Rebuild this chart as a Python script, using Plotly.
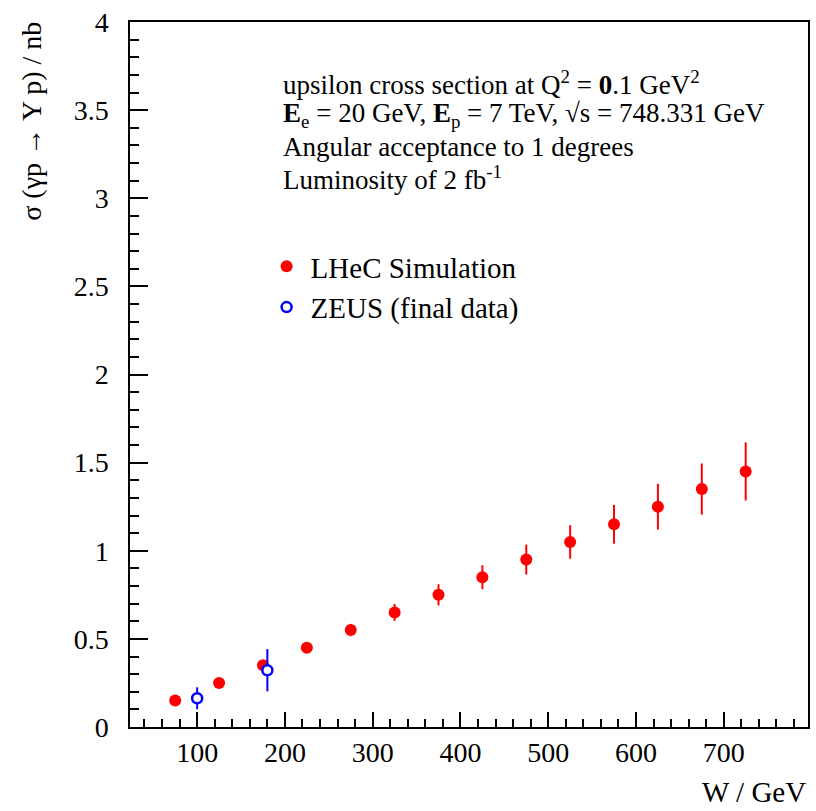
import plotly.graph_objects as go

# ---- data ----
lhec_w = [75, 125, 175, 225, 275, 325, 375, 425, 475, 525, 575, 625, 675, 725]
lhec_sigma = [0.15, 0.25, 0.35, 0.45, 0.55, 0.65, 0.75, 0.85, 0.95, 1.05, 1.15, 1.25, 1.35, 1.45]
lhec_err = [0.01, 0.015, 0.02, 0.025, 0.035, 0.048, 0.06, 0.068, 0.085, 0.095, 0.11, 0.13, 0.145, 0.165]

zeus_w = [100, 180]
zeus_sigma = [0.163, 0.322]
zeus_err = [0.062, 0.12]

x_tickvals = [100, 200, 300, 400, 500, 600, 700]
y_tickvals = [0, 0.5, 1, 1.5, 2, 2.5, 3, 3.5, 4]
y_ticktext = ["0", "0.5", "1", "1.5", "2", "2.5", "3", "3.5", "4"]

FONT = "Liberation Serif, Times New Roman, serif"
W, H = 816, 811
L, R, T, B = 130, 6, 22, 84
PW, PH = W - L - R, H - T - B


def px(xp):
    return (xp - L) / PW


def py(yp):
    return (H - B - yp) / PH


fig = go.Figure()
fig.add_trace(go.Scatter(
    x=lhec_w, y=lhec_sigma, mode="markers", name="LHeC Simulation",
    marker=dict(symbol="circle", size=12, color="#ff0000", line=dict(width=0)),
    error_y=dict(type="data", array=lhec_err, color="#ff0000", thickness=2, width=0),
))
fig.add_trace(go.Scatter(
    x=zeus_w, y=zeus_sigma, mode="markers", name="ZEUS (final data)",
    marker=dict(symbol="circle", size=10, color="white", line=dict(width=2.5, color="#0000ff")),
    error_y=dict(type="data", array=zeus_err, color="#0000ff", thickness=2, width=0),
))

info_lines = [
    "upsilon cross section at Q<sup>2</sup> = <b>0</b>.1 GeV<sup>2</sup>",
    "<b>E</b><sub>e</sub> = 20 GeV, <b>E</b><sub>p</sub> = 7 TeV, \u221as = 748.331 GeV",
    "Angular acceptance to 1 degrees",
    "Luminosity of 2 fb<sup>-1</sup>",
]
info_y = [83, 115, 147, 178]

annotations = []
for txt, yy in zip(info_lines, info_y):
    annotations.append(dict(
        text=txt, xref="paper", yref="paper", x=px(281), y=py(yy),
        xanchor="left", yanchor="middle", showarrow=False,
        font=dict(family=FONT, size=27, color="black"),
    ))
annotations.append(dict(
    text="\u03c3 (\u03b3p \u2192 \u03a5 p) / nb", xref="paper", yref="paper",
    x=px(31), y=py(20), xanchor="center", yanchor="top", textangle=-90,
    showarrow=False, font=dict(family=FONT, size=28, color="black"),
))
annotations.append(dict(
    text="W / GeV", xref="paper", yref="paper", x=px(810), y=py(810),
    xanchor="right", yanchor="bottom", showarrow=False,
    font=dict(family=FONT, size=29, color="black"),
))

fig.update_layout(
    width=W, height=H,
    margin=dict(l=L, r=R, t=T, b=B),
    paper_bgcolor="white", plot_bgcolor="white",
    font=dict(family=FONT, color="black"),
    showlegend=True,
    legend=dict(
        x=px(263), y=py(241), xanchor="left", yanchor="top",
        bgcolor="rgba(0,0,0,0)", font=dict(family=FONT, size=29, color="black"),
        itemwidth=38, tracegroupgap=0,
    ),
    annotations=annotations,
)
fig.update_xaxes(
    range=[23.5, 796], tickvals=x_tickvals, ticks="inside", ticklen=15, tickwidth=1.5,
    tickcolor="black", showline=True, linecolor="black", linewidth=1.5, mirror=True,
    showgrid=False, zeroline=False, tickfont=dict(family=FONT, size=28, color="black"),
    minor=dict(dtick=20, tick0=0, ticks="inside", ticklen=8, tickwidth=1.5, tickcolor="black", showgrid=False),
)
fig.update_yaxes(
    range=[0, 4], tickvals=y_tickvals, ticktext=y_ticktext, ticks="inside", ticklen=18, tickwidth=1.5,
    tickcolor="black", showline=True, linecolor="black", linewidth=1.5, mirror=True,
    showgrid=False, zeroline=False, tickfont=dict(family=FONT, size=28, color="black"),
    minor=dict(dtick=0.1, tick0=0, ticks="inside", ticklen=9, tickwidth=1.5, tickcolor="black", showgrid=False),
    ticklabelstandoff=14,
)

fig.write_html("out.html")
